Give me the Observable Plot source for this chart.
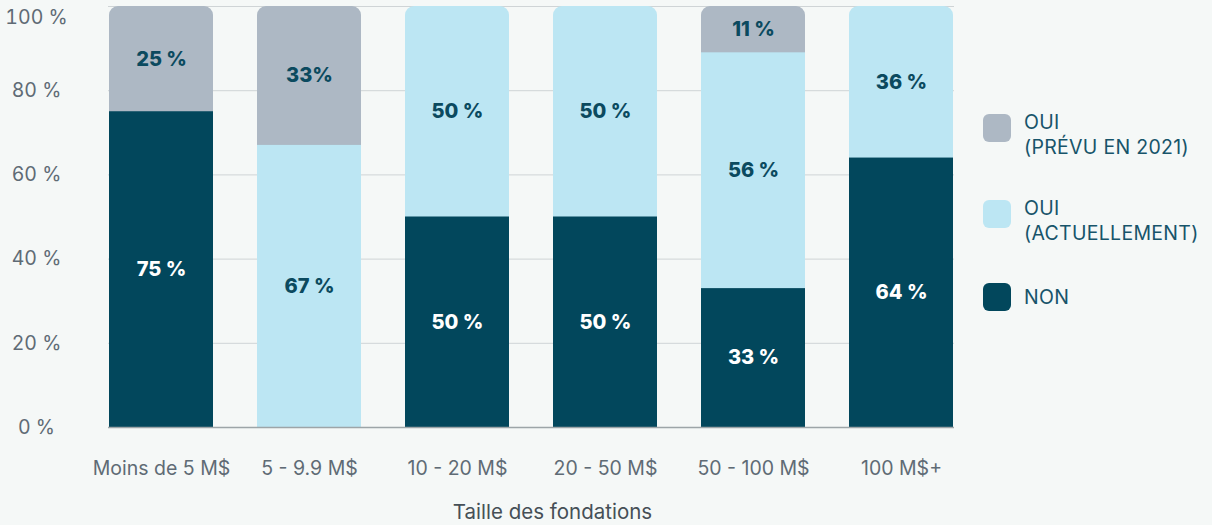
<!DOCTYPE html>
<html><head><meta charset="utf-8">
<script src="https://cdn.jsdelivr.net/npm/d3@7"></script>
<script src="https://cdn.jsdelivr.net/npm/@observablehq/plot@0.6"></script>
<style>
body{margin:0;background:#f5f8f7;}
#wrap{position:relative;width:1212px;height:525px;font-family:Inter,"Open Sans",sans-serif;}
#wrap svg{position:absolute;left:0;top:0;}
.item{position:absolute;left:983px;display:flex;align-items:center;}
.sw{width:28px;height:28px;border-radius:6px;flex:none;}
.lab{margin-left:13px;font-size:19.5px;line-height:25px;color:#17546a;letter-spacing:0.3px;}
</style></head><body><div id="wrap"></div>
<script>
const categories = ["Moins de 5 M$","5 - 9.9 M$","10 - 20 M$","20 - 50 M$","50 - 100 M$","100 M$+"];
const seriesKeys = ["NON","OUI_ACT","OUI_PREVU"];
const seriesLabels = [["NON"],["OUI","(ACTUELLEMENT)"],["OUI","(PRÉVU EN 2021)"]];
const seriesColors = ["#02475c","#bce6f3","#adb8c4"];
const nonValues = [75,0,50,50,33,64];
const actValues = [0,67,50,50,56,36];
const prevuValues = [25,33,0,0,11,0];
const nonLabels = ["75 %","","50 %","50 %","33 %","64 %"];
const actLabels = ["","67 %","50 %","50 %","56 %","36 %"];
const prevuLabels = ["25 %","33%","","","11 %",""];
const yTicks = [0,20,40,60,80,100];
const xTitle = "Taille des fondations";

const valuesBySeries = [nonValues, actValues, prevuValues];
const labelsBySeries = [nonLabels, actLabels, prevuLabels];
const rows = [];
categories.forEach((c, i) => {
  seriesKeys.forEach((s, j) => {
    rows.push({cat: c, series: s, v: valuesBySeries[j][i], label: labelsBySeries[j][i]});
  });
});
const tops = categories.map((c, i) => {
  let top = 0;
  seriesKeys.forEach((s, j) => { if (valuesBySeries[j][i] > 0) top = j; });
  const total = d3.sum(valuesBySeries, arr => arr[i]);
  return {cat: c, series: seriesKeys[top], total};
});
const topMap = new Map(tops.map(t => [t.cat, t.series]));
const lowerRows = rows.filter(r => topMap.get(r.cat) !== r.series);
const yMax = d3.max(yTicks);

const plot = Plot.plot({
  width: 1212,
  height: 525,
  marginLeft: 108,
  marginRight: 258,
  marginTop: 6,
  marginBottom: 98,
  style: {background: "transparent", fontFamily: "Inter, 'Open Sans', sans-serif", fontSize: "19.5px", color: "#5f6b75"},
  x: {domain: categories, padding: 0.3, paddingOuter: 0, label: null, tickSize: 0, tickPadding: 34},
  y: {domain: [0, yMax], label: null},
  color: {domain: seriesKeys, range: seriesColors},
  marks: [
    Plot.ruleY(yTicks.filter(t => t > 0), {stroke: "#cfd4d6", strokeWidth: 1}),
    Plot.axisY(yTicks.filter(t => t < yMax), {tickSize: 0, tickPadding: 72, textAnchor: "middle", tickFormat: d => d + " %", label: null}),
    Plot.axisY([yMax], {tickSize: 0, tickPadding: 72, textAnchor: "middle", dy: 11, tickFormat: d => d + " %", label: null}),
    Plot.barY(tops, {x: "cat", y1: 0, y2: "total", fill: "series", rx: 9}),
    Plot.barY(lowerRows, {x: "cat", y: "v", fill: "series", order: seriesKeys, z: "series"}),
    Plot.ruleY([0], {stroke: "#9da5a8", strokeWidth: 1.5}),
    Plot.text(rows, Plot.filter(d => d.series === "NON" && d.v > 0,
      Plot.stackY({x: "cat", y: "v", z: "series", order: seriesKeys, text: "label", fill: "white", fontSize: 20, fontWeight: 800}))),
    Plot.text(rows, Plot.filter(d => d.series !== "NON" && d.v > 0,
      Plot.stackY({x: "cat", y: "v", z: "series", order: seriesKeys, text: "label", fill: "#0b4a5f", fontSize: 20, fontWeight: 800}))),
    Plot.text([xTitle], {frameAnchor: "bottom", dx: 21, dy: 91, fill: "#454f56", fontSize: 20.5, letterSpacing: "0.6px"})
  ]
});
const wrap = document.getElementById("wrap");
wrap.appendChild(plot);

const legendTops = [283, 200, 114];
seriesKeys.forEach((s, j) => {
  const item = document.createElement("div");
  item.className = "item";
  item.style.top = legendTops[j] + "px";
  item.style.alignItems = j === 0 ? "center" : "flex-start";
  const sw = document.createElement("div");
  sw.className = "sw";
  sw.style.background = seriesColors[j];
  const lab = document.createElement("div");
  lab.className = "lab";
  lab.innerHTML = seriesLabels[j].join("<br>");
  if (j > 0) lab.style.marginTop = "-4px";
  item.appendChild(sw); item.appendChild(lab);
  wrap.appendChild(item);
});
</script></body></html>
